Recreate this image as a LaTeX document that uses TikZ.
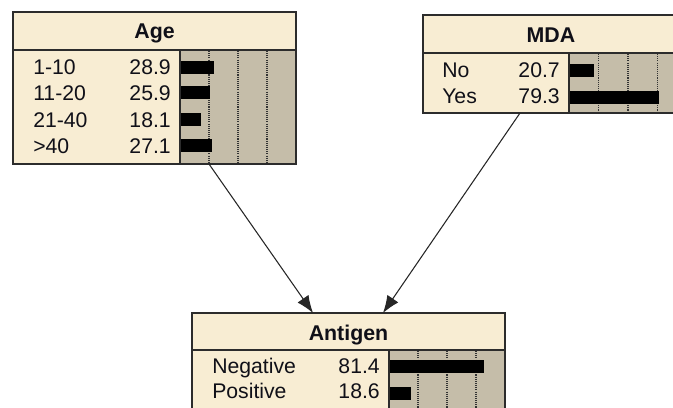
\documentclass[tikz,border=0pt]{standalone}
\usepackage{fontspec}
\setmainfont{Liberation Sans}
\usetikzlibrary{arrows.meta}
\definecolor{capfill}{HTML}{F8EDD3}
\definecolor{panelfill}{HTML}{C5BDA9}
\definecolor{edgecol}{HTML}{2C2C2C}
\definecolor{inkcol}{HTML}{101018}

\begin{document}
\begin{tikzpicture}[x=0.75pt,y=-0.75pt,
  frame/.style={draw=edgecol, line width=1.1pt, fill=capfill, inner sep=0pt, outer sep=0pt},
  panel/.style={fill=panelfill},
  sepline/.style={draw=edgecol, line width=1.1pt},
  gridline/.style={draw=black!80, line width=0.8pt, dash pattern=on 0.8pt off 0.8pt},
  bar/.style={fill=black},
  title/.style={font=\fontsize{16}{18}\selectfont\bfseries, text=inkcol, inner sep=0pt, anchor=base},
  lbl/.style={font=\fontsize{15.9}{18}\selectfont, text=inkcol, inner sep=0pt, anchor=base west},
  val/.style={font=\fontsize{15.9}{18}\selectfont, text=inkcol, inner sep=0pt, anchor=base east},
  link/.style={draw=black!85, line width=0.8pt, -{Latex[length=13pt,width=10pt]}}]
\useasboundingbox (0,0) rectangle (673,407);
\clip (0,0) rectangle (673,407);

% ---------- Age ----------
\node[frame, minimum width=212.25pt, minimum height=114pt] (age) at (154.5,88) {};
\fill[panel] (180,50) rectangle (296,164);
\foreach \gx in {209,238,267} \draw[gridline] (\gx,51) -- (\gx,163);
\fill[bar] (180,60.5) rectangle (213.5,73.5);
\fill[bar] (180,86)   rectangle (210,99);
\fill[bar] (180,112.5) rectangle (201,125.5);
\fill[bar] (180,139)  rectangle (211.5,152);
\draw[sepline] (13,50) -- (296,50) (180,50) -- (180,164);
\draw[edgecol, line width=1.1pt] (age.north west) rectangle (age.south east);
\node[title] (age-title) at (154.5,38.5) {Age};
\node[lbl] (age-l1) at (33,74)  {1-10};
\node[lbl] (age-l2) at (33,100) {11-20};
\node[lbl] (age-l3) at (33,127) {21-40};
\node[lbl] (age-l4) at (33,153) {>40};
\node[val] (age-v1) at (171,74)  {28.9};
\node[val] (age-v2) at (171,100) {25.9};
\node[val] (age-v3) at (171,127) {18.1};
\node[val] (age-v4) at (171,153) {27.1};

% ---------- MDA ----------
\node[frame, minimum width=198pt, minimum height=73.5pt] (mda) at (555,64) {};
\fill[panel] (569,53) rectangle (687,113);
\foreach \gx in {598.5,628,657.5} \draw[gridline] (\gx,54) -- (\gx,112);
\fill[bar] (569,64)   rectangle (593.5,77);
\fill[bar] (569,90.5) rectangle (659,103.5);
\draw[sepline] (423,53) -- (687,53) (569,53) -- (569,113);
\draw[edgecol, line width=1.1pt] (mda.north west) rectangle (mda.south east);
\node[title] (mda-title) at (551,42.5) {MDA};
\node[lbl] (mda-l1) at (442,77)    {No};
\node[lbl] (mda-l2) at (442,103.5) {Yes};
\node[val] (mda-v1) at (560,77)    {20.7};
\node[val] (mda-v2) at (560,103.5) {79.3};

% ---------- Antigen ----------
\node[frame, minimum width=234.75pt, minimum height=90pt] (ant) at (348.5,373) {};
\fill[panel] (389,350) rectangle (505,433);
\foreach \gx in {418,447,476} \draw[gridline] (\gx,351) -- (\gx,432);
\fill[bar] (389,360)   rectangle (483.5,373);
\fill[bar] (389,386.5) rectangle (410.5,399.5);
\draw[sepline] (192,350) -- (505,350) (389,350) -- (389,433);
\draw[edgecol, line width=1.1pt] (ant.north west) rectangle (ant.south east);
\node[title] (ant-title) at (348.5,340) {Antigen};
\node[lbl] (ant-l1) at (212,373) {Negative};
\node[lbl] (ant-l2) at (212,398) {Positive};
\node[val] (ant-v1) at (380,373) {81.4};
\node[val] (ant-v2) at (380,398) {18.6};

% ---------- links ----------
\coordinate (age-out) at ([xshift=147pt]age.south west);
\coordinate (mda-out) at ([xshift=72.75pt]mda.south west);
\coordinate (ant-in1) at ([xshift=90.75pt]ant.north west);
\coordinate (ant-in2) at ([xshift=143.25pt]ant.north west);
\draw[link] (age-out) -- (ant-in1);
\draw[link] (mda-out) -- (ant-in2);
\end{tikzpicture}
\end{document}
